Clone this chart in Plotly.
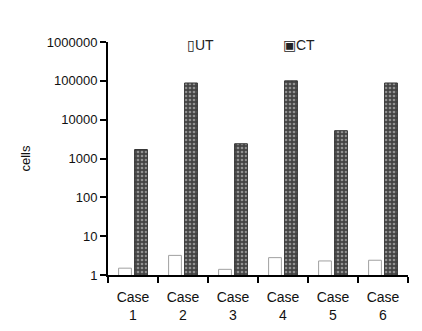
import plotly.graph_objects as go

categories = ["Case<br>1", "Case<br>2", "Case<br>3", "Case<br>4", "Case<br>5", "Case<br>6"]
ut_values = [1.5, 3.2, 1.4, 2.8, 2.3, 2.4]
ct_values = [1700, 88000, 2400, 100000, 5200, 88000]
y_tickvals = [1, 10, 100, 1000, 10000, 100000, 1000000]
y_ticktext = ["1", "10", "100", "1000", "10000", "100000", "1000000"]
series_names = ["UT", "CT"]

fig = go.Figure()
fig.add_trace(go.Bar(
    name=series_names[0], x=categories, y=ut_values,
    marker=dict(color="white", line=dict(color="#a0a0a0", width=1)),
))
fig.add_trace(go.Bar(
    name=series_names[1], x=categories, y=ct_values,
    marker=dict(color="#444444", line=dict(color="#333333", width=1),
                pattern=dict(shape=".", fgcolor="#e0e0e0", size=4, solidity=0.35)),
))

# legend drawn as text labels at the top of the plot
fig.add_annotation(text="\u25af" + series_names[0], xref="paper", yref="paper",
                   x=0.255, y=0.987, xanchor="left", yanchor="middle", showarrow=False,
                   font=dict(size=14, color="#222222"))
fig.add_annotation(text="\u25a3" + series_names[1], xref="paper", yref="paper",
                   x=0.575, y=0.987, xanchor="left", yanchor="middle", showarrow=False,
                   font=dict(size=14, color="#222222"))

fig.update_layout(
    width=414, height=323,
    margin=dict(l=100, r=14, t=34, b=56),
    paper_bgcolor="white", plot_bgcolor="white",
    font=dict(family="Liberation Sans, Arial", size=13, color="#111111"),
    barmode="group", bargap=0.36, bargroupgap=0.2,
    showlegend=False,
    yaxis=dict(type="log", range=[0, 6], tickvals=y_tickvals, ticktext=y_ticktext,
               automargin=False,
               showgrid=False, zeroline=False, showline=True, linecolor="black",
               linewidth=2, ticks="outside", ticklen=6, tickwidth=2, tickcolor="black",
               title=dict(text="cells", standoff=13, font=dict(size=13))),
    xaxis=dict(showgrid=False, showline=True, linecolor="black", linewidth=2,
               automargin=False, ticklabelstandoff=8,
               ticks="outside", tickson="boundaries", ticklen=6, tickwidth=2,
               tickcolor="black", tickfont=dict(size=14)),
)

fig.write_html("out.html")
